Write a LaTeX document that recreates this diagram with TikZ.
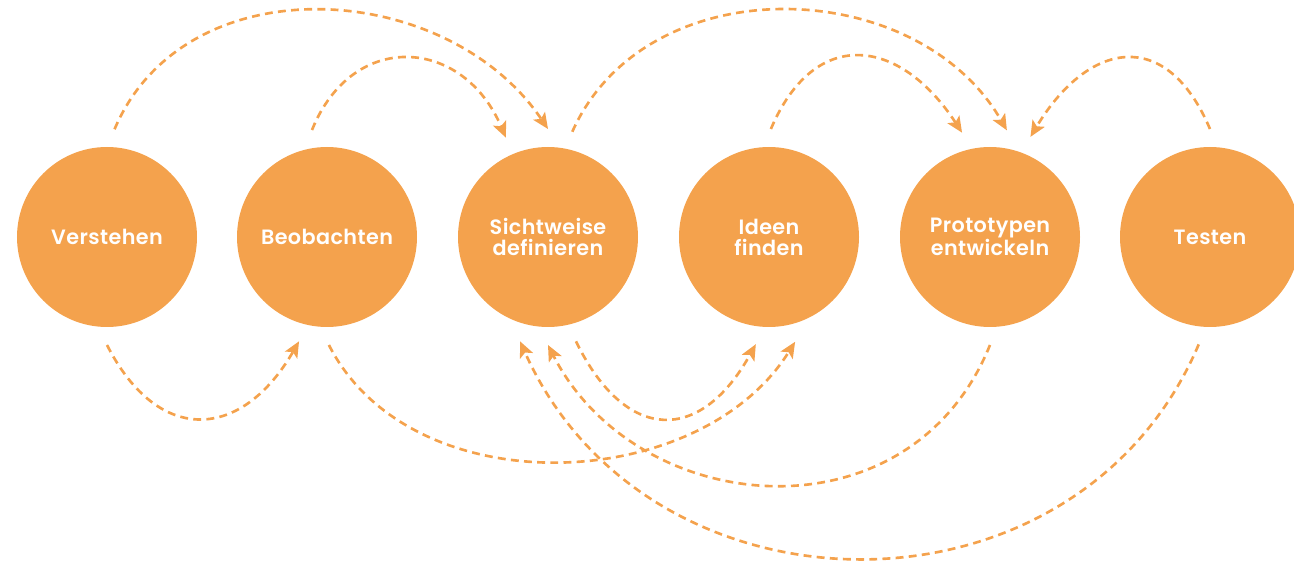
\documentclass[tikz,border=0pt]{standalone}
\usepackage{fontspec}
\setmainfont{Poppins}[BoldFont={Poppins SemiBold}, BoldFeatures={LetterSpace=2}]
\usetikzlibrary{arrows.meta}
\definecolor{dtorange}{HTML}{F4A24D}

\begin{document}
\begin{tikzpicture}[
    >={Stealth[length=9pt, width=8pt, inset=2pt]},
    phase/.style={circle, fill=dtorange, minimum size=3.6cm, inner sep=0pt, outer sep=0.36cm, text=white, font=\fontsize{11.8}{12}\selectfont\bfseries, align=center},
    iter/.style={->, dtorange, line width=1.5pt, dash pattern=on 4.5pt off 3pt},
]
\clip (0,0) rectangle (25.88,-11.24);

% Phases
\node[phase] (verst) at (2.14,-4.74) {Verstehen};
\node[phase] (beob)  at (6.54,-4.74) {Beobachten};
\node[phase] (sicht) at (10.96,-4.74) {Sichtweise\\definieren};
\node[phase] (ideen) at (15.38,-4.74) {Ideen\\finden};
\node[phase] (proto) at (19.80,-4.74) {Prototypen\\entwickeln};
\node[phase] (test)  at (24.20,-4.74) {Testen};

% Arcs above
\draw[iter] (verst.86) .. controls +(67:3.62) and +(124:3.62) .. (sicht.90);
\draw[iter] (beob.98) .. controls +(68:2.18) and +(113:2.18) .. (sicht.113);
\draw[iter] (sicht.77) .. controls +(66:3.62) and +(120:3.62) .. (proto.81);
\draw[iter] (ideen.89) .. controls +(67:2.26) and +(123:2.26) .. (proto.105);
\draw[iter] (test.90) .. controls +(113:2.24) and +(59:2.24) .. (proto.68);

% Arcs below
\draw[iter] (verst.-90) .. controls +(-63:2.28) and +(-120:2.28) .. (beob.-105);
\draw[iter] (beob.-89) .. controls +(-63:3.62) and +(-122:3.62) .. (ideen.-76);
\draw[iter] (sicht.-75) .. controls +(-64:2.28) and +(-119:2.28) .. (ideen.-97);
\draw[iter] (proto.-90) .. controls +(-112:4.3) and +(-63:3.9) .. (sicht.-90);
\draw[iter] (test.-96) .. controls +(-113:6.26) and +(-66:6.26) .. (sicht.-105);

\end{tikzpicture}
\end{document}
